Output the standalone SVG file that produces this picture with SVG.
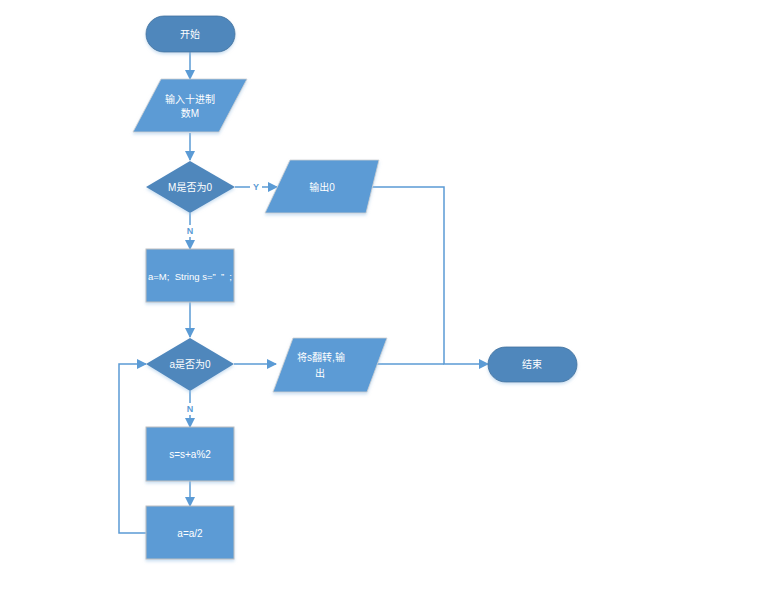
<svg xmlns="http://www.w3.org/2000/svg" width="757" height="607" viewBox="0 0 757 607">
<defs>
<marker id="ah" markerWidth="10" markerHeight="10" refX="9" refY="5" orient="auto" markerUnits="userSpaceOnUse">
<path d="M0,0 L10,5 L0,10 Z" fill="#5B9BD5"/>
</marker>
<filter id="sh" x="-20%" y="-20%" width="140%" height="150%">
<feDropShadow dx="0" dy="2" stdDeviation="1.5" flood-color="#9DC3E6" flood-opacity="0.5"/>
</filter>
</defs>
<style>
.term{fill:#4F87BC;stroke:#41719C;stroke-width:0.8;filter:url(#sh)}
.dec{fill:#4F87BC;stroke:none;filter:url(#sh)}
.proc{fill:#5B9BD5;stroke:#BFBFBF;stroke-width:1;filter:url(#sh)}
.io{fill:#5B9BD5;stroke:#D0D0D0;stroke-width:0.8;filter:url(#sh)}
.t{font-family:"Liberation Sans","Noto Sans CJK SC",sans-serif;font-size:10px;fill:#FFFFFF;text-anchor:middle;dominant-baseline:central;white-space:pre}
.lbl{font-family:"Liberation Sans","Noto Sans CJK SC",sans-serif;font-size:9px;fill:#5B9BD5;font-weight:bold;text-anchor:middle;dominant-baseline:central}
.c{fill:none;stroke:#5B9BD5;stroke-width:1.5}
</style>
<rect width="757" height="607" fill="#FFFFFF"/>
<g id="connectors">
<path class="c" d="M190,52 L190,79" marker-end="url(#ah)"/>
<path class="c" d="M190,133 L190,160" marker-end="url(#ah)"/>
<path class="c" d="M235,187 L277,187" marker-end="url(#ah)"/>
<path class="c" d="M190,213 L190,249" marker-end="url(#ah)"/>
<path class="c" d="M372,187 L444,187 L444,364 L488,364" marker-end="url(#ah)"/>
<path class="c" d="M190,302 L190,337" marker-end="url(#ah)"/>
<path class="c" d="M234,364 L276,364" marker-end="url(#ah)"/>
<path class="c" d="M377,364 L444,364"/>
<path class="c" d="M190,391 L190,427" marker-end="url(#ah)"/>
<path class="c" d="M190,481 L190,506" marker-end="url(#ah)"/>
<path class="c" d="M146,533 L119,533 L119,364 L146,364" marker-end="url(#ah)"/>
<rect x="250" y="181" width="12" height="12" fill="#FFFFFF"/>
<text class="lbl" x="256" y="187">Y</text>
<rect x="184" y="225" width="12" height="12" fill="#FFFFFF"/>
<text class="lbl" x="190" y="231">N</text>
<rect x="184" y="403" width="12" height="12" fill="#FFFFFF"/>
<text class="lbl" x="190" y="409">N</text>
</g>
<g id="start">
<rect class="term" x="146" y="16" width="89" height="36" rx="18"/>
<text class="t" x="190" y="34">开始</text>
</g>
<g id="input">
<polygon class="io" points="161,79 247,79 219,132 133,132"/>
<text class="t" x="190" y="99">输入十进制</text>
<text class="t" x="190" y="113">数M</text>
</g>
<g id="dec1">
<polygon class="dec" points="190,161 235,187 190,213 146,187"/>
<text class="t" x="190" y="187">M是否为0</text>
</g>
<g id="out0">
<polygon class="io" points="290,160 379,160 366,213 265,213"/>
<text class="t" x="322" y="187">输出0</text>
</g>
<g id="init">
<rect class="proc" x="146" y="249" width="88" height="53"/>
<text class="t" x="190" y="276" style="font-size:9.5px">a=M;  String s=”  ”  ;</text>
</g>
<g id="dec2">
<polygon class="dec" points="190,338 234,364 190,391 146,364"/>
<text class="t" x="190" y="364">a是否为0</text>
</g>
<g id="outrev">
<polygon class="io" points="293,338 387,338 367,392 273,392"/>
<text class="t" x="321" y="357">将s翻转,输</text>
<text class="t" x="320" y="373">出</text>
</g>
<g id="end">
<rect class="term" x="488" y="347" width="89" height="35" rx="17.5"/>
<text class="t" x="532" y="364">结束</text>
</g>
<g id="step1">
<rect class="proc" x="146" y="427" width="88" height="54"/>
<text class="t" x="190" y="454">s=s+a%2</text>
</g>
<g id="step2">
<rect class="proc" x="146" y="506" width="88" height="53"/>
<text class="t" x="190" y="533">a=a/2</text>
</g>
</svg>
